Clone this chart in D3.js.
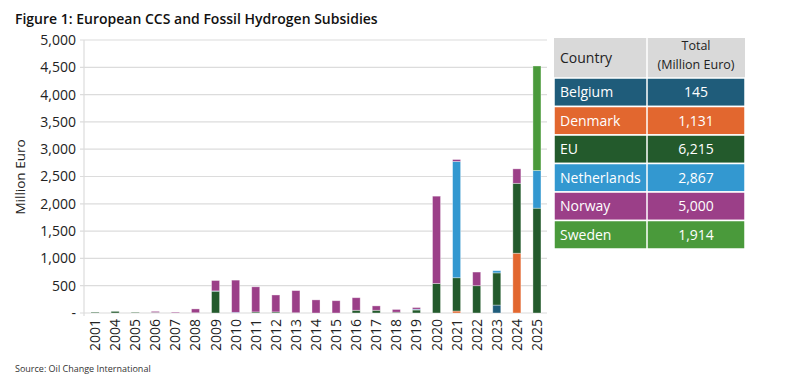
<!DOCTYPE html>
<meta charset="utf-8">
<script src="https://d3js.org/d3.v7.min.js"></script>
<style>
  body { margin: 0; background: #fff; }
  text { font-family: "Open Sans", "Noto Sans", sans-serif; }
</style>
<div id="chart"></div>
<script>
// years on the x axis (2002 and 2003 are not in the source)
const years = ["2001","2004","2005","2006","2007","2008","2009","2010","2011","2012","2013","2014","2015","2016","2017","2018","2019","2020","2021","2022","2023","2024","2025"];
const countries = ["Belgium","Denmark","EU","Netherlands","Norway","Sweden"];
const totals = ["145","1,131","6,215","2,867","5,000","1,914"];
const colors = ["#1f5c7a","#e2672f","#235a2c","#3398d0","#9b3f88","#4a9a3b"];

// million euro per year, one array per country
const belgium     = [0,0,0,0,0,0,0,0,0,0,0,0,0,0,0,0,0,0,0,0,145,0,0];
const denmark     = [0,0,0,0,0,0,0,0,0,0,0,0,0,0,0,0,0,0,36,0,0,1095,0];
const eu          = [15,30,12,10,0,5,400,0,20,20,5,0,0,50,50,15,55,540,610,500,590,1280,1920];
const netherlands = [0,0,0,0,0,0,5,12,0,0,0,0,0,0,0,0,15,0,2130,0,40,0,690];
const norway      = [0,0,0,20,15,70,190,590,460,310,405,240,225,230,80,50,30,1600,35,250,0,265,0];
const sweden      = [0,0,0,0,0,0,0,0,0,0,0,0,0,0,0,0,0,0,0,0,0,0,1914];
const yTicks = [0,500,1000,1500,2000,2500,3000,3500,4000,4500,5000];

const series = [belgium, denmark, eu, netherlands, norway, sweden];
const rows = years.map((y, i) => {
  const r = {year: y};
  countries.forEach((c, k) => r[c] = series[k][i]);
  return r;
});

const W = 800, H = 382;
const svg = d3.select("#chart").append("svg").attr("width", W).attr("height", H);

const x = d3.scaleBand().domain(years).range([85, 547]).paddingInner(0.6).paddingOuter(0.3);
const y = d3.scaleLinear().domain([0, 5000]).range([313, 40]);

svg.append("text").attr("x", 15).attr("y", 24)
  .text("Figure 1: European CCS and Fossil Hydrogen Subsidies")
  .style("font-size", "14px").style("font-weight", "600").style("fill", "#111");

// gridlines
svg.append("g").selectAll("line").data(yTicks).join("line")
  .attr("x1", 80).attr("x2", 547)
  .attr("y1", d => y(d)).attr("y2", d => y(d))
  .attr("stroke", "#dcdcdc").attr("stroke-width", 1.2);
svg.append("line").attr("x1", 84).attr("x2", 84).attr("y1", 40).attr("y2", 316)
  .attr("stroke", "#dcdcdc").attr("stroke-width", 1.2);

svg.append("g").selectAll("text").data(yTicks).join("text")
  .attr("x", 76).attr("y", d => y(d)).attr("dy", "0.35em")
  .attr("text-anchor", "end")
  .text(d => d === 0 ? "-" : d3.format(",")(d))
  .style("font-size", "14px").style("fill", "#222");

svg.append("text").attr("transform", "translate(25,177) rotate(-90)")
  .attr("text-anchor", "middle").text("Million Euro")
  .style("font-size", "13.5px").style("fill", "#222");

// stacked bars
const stack = d3.stack().keys(countries)(rows);
svg.append("g").selectAll("g").data(stack).join("g")
  .attr("fill", (d, i) => colors[i])
  .selectAll("rect").data(d => d.filter(s => s[1] - s[0] > 0)).join("rect")
  .attr("x", d => x(d.data.year))
  .attr("width", x.bandwidth())
  .attr("y", d => y(d[1]))
  .attr("height", d => y(d[0]) - y(d[1]))
  .attr("stroke", "rgba(255,255,255,0.45)").attr("stroke-width", 0.8);

// x labels
svg.append("g").selectAll("text").data(years).join("text")
  .attr("transform", d => `translate(${x(d) + x.bandwidth() / 2 + 5},319) rotate(-90)`)
  .attr("text-anchor", "end").text(d => d)
  .style("font-size", "14px").style("fill", "#222");

svg.append("text").attr("x", 15).attr("y", 372)
  .text("Source: Oil Change International")
  .style("font-size", "9px").style("fill", "#333");

// table legend
const tx = 554, tw1 = 93, tw2 = 98, hh = 40, rh = 28.5, ty = 38;
const tbl = svg.append("g");
tbl.append("rect").attr("x", tx).attr("y", ty).attr("width", tw1 + tw2).attr("height", hh).attr("fill", "#d9d9d9");
tbl.append("line").attr("x1", tx + tw1).attr("x2", tx + tw1).attr("y1", ty).attr("y2", ty + hh).attr("stroke", "#fff").attr("stroke-width", 1.5);
tbl.append("text").attr("x", tx + 6).attr("y", ty + hh / 2).attr("dy", "0.35em").text("Country")
  .style("font-size", "14px").style("fill", "#222");
tbl.append("text").attr("x", tx + tw1 + tw2 / 2).attr("y", ty + 12).attr("text-anchor", "middle").text("Total")
  .style("font-size", "12.5px").style("fill", "#222");
tbl.append("text").attr("x", tx + tw1 + tw2 / 2).attr("y", ty + 31).attr("text-anchor", "middle").text("(Million Euro)")
  .style("font-size", "12.5px").style("fill", "#222");

const rowG = tbl.selectAll("g.row").data(countries).join("g").attr("class", "row")
  .attr("transform", (d, i) => `translate(${tx},${ty + hh + i * rh})`);
rowG.append("rect").attr("width", tw1 + tw2).attr("height", rh).attr("fill", (d, i) => colors[i])
  .attr("stroke", "#fff").attr("stroke-width", 1.5);
rowG.append("line").attr("x1", tw1).attr("x2", tw1).attr("y1", 0).attr("y2", rh).attr("stroke", "#fff").attr("stroke-width", 1.5);
rowG.append("text").attr("x", 6).attr("y", rh / 2).attr("dy", "0.35em").text(d => d)
  .style("font-size", "14px").style("fill", "#fff");
rowG.append("text").attr("x", tw1 + tw2 / 2).attr("y", rh / 2).attr("dy", "0.35em").attr("text-anchor", "middle")
  .text((d, i) => totals[i]).style("font-size", "14px").style("fill", "#fff");
</script>
